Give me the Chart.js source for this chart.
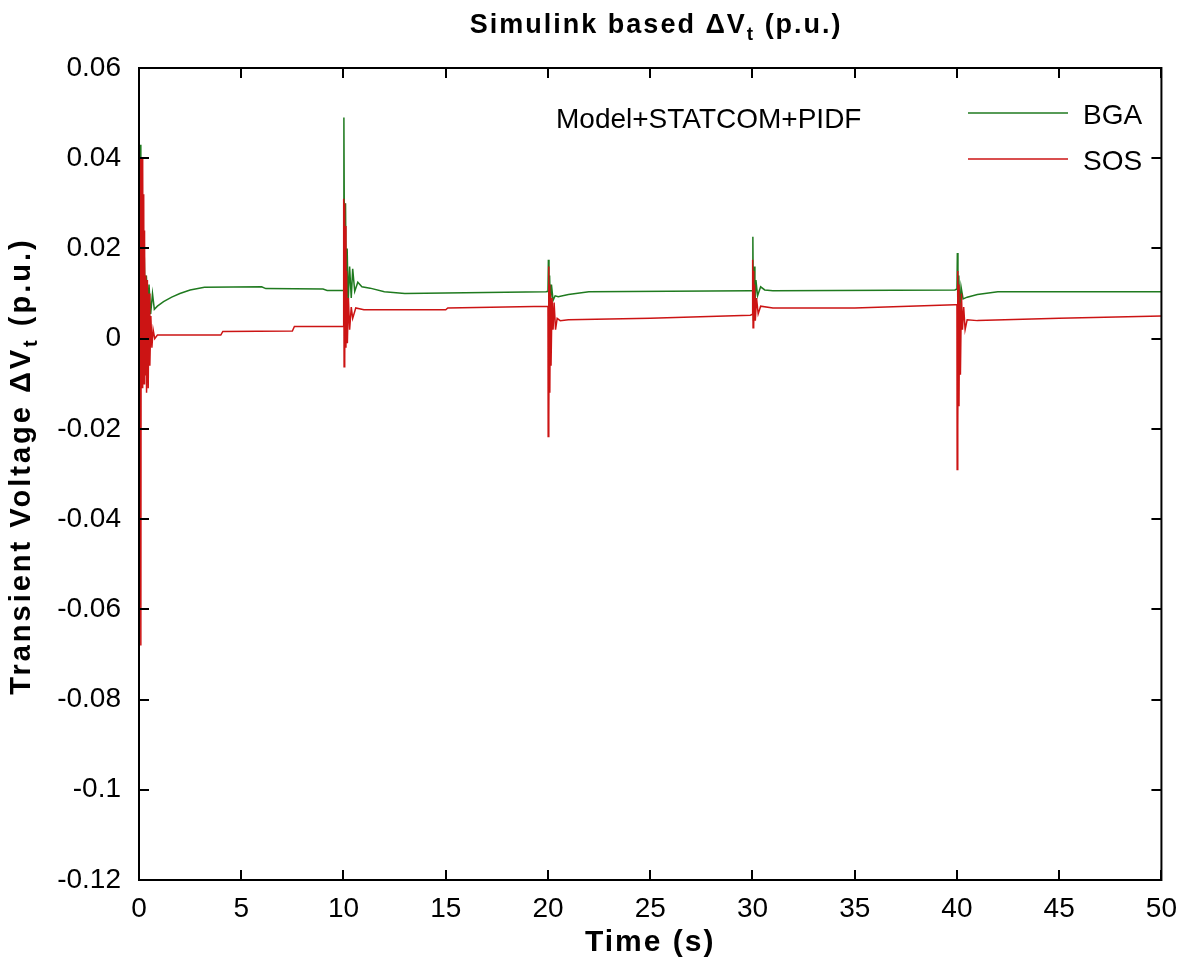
<!DOCTYPE html>
<html>
<head>
<meta charset="utf-8">
<script src="https://cdn.jsdelivr.net/npm/chart.js@4.4.1/dist/chart.umd.min.js"></script>
<style>
  body { margin: 0; background: #fff; }
  #wrap { width: 1181px; height: 958px; }
</style>
</head>
<body>
<div id="wrap"><canvas id="myChart"></canvas></div>
<script>
// values
const seriesNames = ['BGA', 'SOS'];

const bgaTime = [0, 0.06, 0.09, 0.12, 0.15, 0.18, 0.22, 0.26, 0.31, 0.36, 0.42, 0.49, 0.57, 0.66, 0.75, 0.9, 1.2, 1.6, 2.0, 2.5, 3.2, 6.0, 6.2, 9.0, 9.2,
  10.0, 10.02, 10.06, 10.10, 10.14, 10.18, 10.23, 10.3, 10.38, 10.45, 10.55, 10.7, 10.9, 11.3, 12.0, 13.0, 19.9,
  20.0, 20.02, 20.05, 20.08, 20.12, 20.17, 20.25, 20.35, 20.5, 21.0, 22.0, 29.9,
  30.0, 30.02, 30.05, 30.08, 30.12, 30.17, 30.25, 30.4, 30.6, 31.0, 39.9,
  40.0, 40.02, 40.05, 40.09, 40.14, 40.2, 40.3, 40.5, 41.0, 42.0, 50];
const bgaValues = [0, 0.043, -0.005, 0.035, 0.0, 0.025, 0.004, 0.018, 0.006, 0.014, 0.007, 0.012, 0.0055, 0.010, 0.0065, 0.0072, 0.0082, 0.0092, 0.0100, 0.0108, 0.0114, 0.0115, 0.0111, 0.0110, 0.0107,
  0.0107, 0.049, 0.004, 0.030, 0.006, 0.020, 0.008, 0.016, 0.009, 0.0155, 0.0105, 0.0125, 0.0115, 0.0112, 0.0104, 0.0100, 0.0104,
  0.0105, 0.0175, 0.006, 0.014, 0.007, 0.012, 0.0085, 0.0095, 0.0093, 0.0098, 0.0104, 0.0106,
  0.0106, 0.0226, 0.004, 0.016, 0.007, 0.013, 0.0095, 0.0115, 0.0108, 0.0106, 0.0108,
  0.0110, 0.019, 0.003, 0.014, 0.006, 0.0115, 0.0088, 0.0092, 0.0098, 0.0104, 0.0104];

const sosTime = [0, 0.06, 0.09, 0.11, 0.13, 0.15, 0.17, 0.19, 0.21, 0.23, 0.25, 0.27, 0.3, 0.33, 0.37, 0.41, 0.45, 0.49, 0.53, 0.58, 0.63, 0.69, 0.77, 0.9, 4.0, 4.1, 7.5, 7.6,
  10.0, 10.01, 10.03, 10.05, 10.07, 10.09, 10.12, 10.15, 10.19, 10.24, 10.3, 10.38, 10.45, 10.6, 11.0, 15.0, 15.1,
  20.0, 20.01, 20.03, 20.05, 20.07, 20.09, 20.12, 20.15, 20.2, 20.25, 20.3, 20.37, 20.45, 20.6, 21.0, 25.0, 29.9,
  30.0, 30.01, 30.03, 30.05, 30.07, 30.1, 30.14, 30.2, 30.28, 30.4, 31.0, 35.0, 39.9,
  40.0, 40.01, 40.03, 40.05, 40.07, 40.1, 40.13, 40.17, 40.22, 40.27, 40.33, 40.4, 40.5, 41.0, 45.0, 50];
const sosValues = [0, 0.040, -0.068, 0.040, -0.011, 0.040, -0.011, 0.038, -0.010, 0.032, -0.010, 0.024, -0.008, 0.014, -0.012, 0.013, -0.011, 0.010, -0.006, 0.005, -0.002, 0.002, 0.0, 0.0008, 0.0008, 0.0016, 0.0017, 0.0027,
  0.0027, 0.031, -0.0062, 0.030, -0.005, 0.025, -0.002, 0.015, -0.001, 0.009, 0.002, 0.007, 0.0045, 0.0068, 0.0064, 0.0064, 0.0068,
  0.0072, -0.0217, 0.016, -0.018, 0.012, -0.012, 0.010, -0.006, 0.009, 0.002, 0.008, 0.002, 0.0045, 0.0040, 0.0042, 0.0045, 0.0052,
  0.0054, 0.0175, 0.0024, 0.015, 0.003, 0.012, 0.004, 0.009, 0.0055, 0.0072, 0.0068, 0.0068, 0.0075,
  0.0075, -0.029, 0.015, -0.020, 0.012, -0.015, 0.008, -0.008, 0.010, 0.002, 0.007, 0.002, 0.0042, 0.0040, 0.0045, 0.0050];

const xTickValues = [0, 5, 10, 15, 20, 25, 30, 35, 40, 45, 50];
const yTickValues = [-0.12, -0.1, -0.08, -0.06, -0.04, -0.02, 0, 0.02, 0.04, 0.06];

const bgaColor = '#1f7a1f';
const sosColor = '#cc1414';
const FONT = "'Liberation Sans', Arial, sans-serif";

function toPoints(t, v) {
  return t.map((x, i) => ({ x: x, y: v[i] }));
}

// draws "main" + subscript + "rest" starting at x, baseline y
function drawSub(c, main, sub, rest, x, y, size, bold) {
  const w = bold ? 'bold ' : '';
  c.font = w + size + 'px ' + FONT;
  const w1 = c.measureText(main).width;
  c.fillText(main, x, y);
  c.font = w + Math.round(size * 0.7) + 'px ' + FONT;
  const w2 = c.measureText(sub).width;
  c.fillText(sub, x + w1, y + size * 0.25);
  c.font = w + size + 'px ' + FONT;
  c.fillText(rest, x + w1 + w2, y);
  return w1 + w2 + c.measureText(rest).width;
}

function measureSub(c, main, sub, rest, size, bold) {
  const w = bold ? 'bold ' : '';
  c.font = w + size + 'px ' + FONT;
  let total = c.measureText(main).width + c.measureText(rest).width;
  c.font = w + Math.round(size * 0.7) + 'px ' + FONT;
  return total + c.measureText(sub).width;
}

const decor = {
  id: 'decor',
  afterDraw(chart) {
    const c = chart.ctx;
    const a = chart.chartArea;
    const xs = chart.scales.x, ys = chart.scales.y;
    c.save();
    c.strokeStyle = '#000';
    c.lineWidth = 2;
    c.strokeRect(a.left, a.top, a.right - a.left, a.bottom - a.top);
    c.beginPath();
    xTickValues.forEach(v => {
      const px = Math.round(xs.getPixelForValue(v));
      c.moveTo(px, a.bottom); c.lineTo(px, a.bottom - 10);
      c.moveTo(px, a.top); c.lineTo(px, a.top + 10);
    });
    yTickValues.forEach(v => {
      const py = Math.round(ys.getPixelForValue(v));
      c.moveTo(a.left, py); c.lineTo(a.left + 10, py);
      c.moveTo(a.right, py); c.lineTo(a.right - 10, py);
    });
    c.stroke();

    c.fillStyle = '#000';
    c.textBaseline = 'alphabetic';
    c.letterSpacing = '2px';
    // title
    const tw = measureSub(c, 'Simulink based \u0394V', 't', ' (p.u.)', 27, true);
    drawSub(c, 'Simulink based \u0394V', 't', ' (p.u.)', (a.left + a.right) / 2 - tw / 2 + 6, 33, 27, true);
    // x axis title
    c.font = 'bold 30px ' + FONT;
    c.textAlign = 'center';
    c.fillText('Time (s)', (a.left + a.right) / 2, 951);
    c.textAlign = 'left';
    // y axis title
    c.save();
    c.letterSpacing = '3px';
    c.translate(30, 466);
    c.rotate(-Math.PI / 2);
    const yw = measureSub(c, 'Transient Voltage \u0394V', 't', ' (p.u.)', 29, true);
    drawSub(c, 'Transient Voltage \u0394V', 't', ' (p.u.)', -yw / 2, 0, 29, true);
    c.restore();
    c.letterSpacing = '0px';

    // annotation and legend
    c.font = '28px ' + FONT;
    c.fillText('Model+STATCOM+PIDF', 556, 128);
    chart.data.datasets.forEach((ds, i) => {
      const ly = 113 + i * 46;
      c.strokeStyle = ds.borderColor;
      c.lineWidth = 1.5;
      c.beginPath();
      c.moveTo(968, ly); c.lineTo(1068, ly);
      c.stroke();
      c.fillText(ds.label, 1083, ly + 11);
    });
    c.restore();
  }
};

new Chart(document.getElementById('myChart'), {
  type: 'line',
  data: {
    datasets: [
      { label: seriesNames[0], data: toPoints(bgaTime, bgaValues), borderColor: bgaColor, borderWidth: 1.5, pointRadius: 0, tension: 0, order: 1 },
      { label: seriesNames[1], data: toPoints(sosTime, sosValues), borderColor: sosColor, borderWidth: 1.5, pointRadius: 0, tension: 0, order: 0 }
    ]
  },
  options: {
    responsive: true,
    maintainAspectRatio: false,
    animation: false,
    layout: { padding: { top: 68, right: 19, left: 0, bottom: 0 } },
    plugins: { legend: { display: false }, title: { display: false }, tooltip: { enabled: false } },
    scales: {
      x: {
        type: 'linear', min: 0, max: 50,
        afterFit: s => { s.height = 78; },
        afterBuildTicks: s => { s.ticks = xTickValues.map(v => ({ value: v })); },
        grid: { display: false },
        border: { display: false },
        ticks: { color: '#000', font: { family: FONT, size: 28 }, padding: 4, maxRotation: 0, autoSkip: false }
      },
      y: {
        type: 'linear', min: -0.12, max: 0.06,
        afterFit: s => { s.width = 139; },
        afterBuildTicks: s => { s.ticks = yTickValues.map(v => ({ value: v })); },
        grid: { display: false },
        border: { display: false },
        ticks: {
          color: '#000', font: { family: FONT, size: 28 }, padding: 10, autoSkip: false,
          callback: v => String(Math.round(v * 100) / 100)
        }
      }
    }
  },
  plugins: [decor]
});
</script>
</body>
</html>
